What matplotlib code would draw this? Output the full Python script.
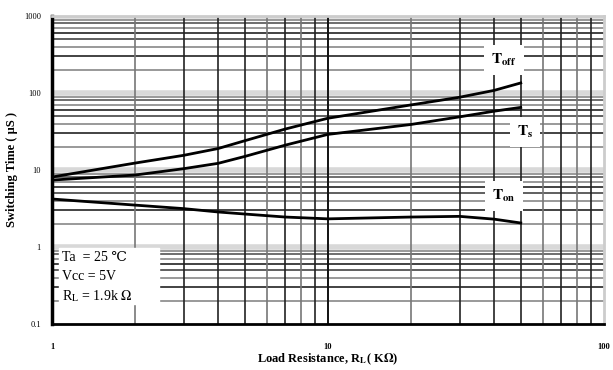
import matplotlib
matplotlib.use("Agg")
import matplotlib.pyplot as plt
import numpy as np

plt.rcParams['font.family'] = ['Liberation Serif', 'DejaVu Serif']
plt.rcParams['mathtext.fontset'] = 'stix'

# load resistance (kOhm) and switching times (uS)
load_k = [1, 2, 3, 4, 5, 7, 10, 20, 30, 40, 50]
t_off = [8.1, 12.3, 15.5, 19.0, 24.0, 34.0, 47.0, 70.0, 88.0, 108.0, 135.0]
t_s = [7.4, 8.6, 10.4, 12.2, 15.0, 21.0, 29.0, 39.0, 49.0, 58.0, 65.0]
t_on = [4.2, 3.5, 3.15, 2.85, 2.68, 2.45, 2.32, 2.45, 2.5, 2.3, 2.05]

y_ticks = [0.1, 1, 10, 100, 1000]
y_ticklabels = ['0.1', '1', '10', '100', '1000']
x_ticks = [1, 10, 100]
x_ticklabels = ['1', '10', '100']
conditions = ['Ta  = 25 \u2103', 'Vcc = 5V', r'R$_{\rm L}$ = 1.9k $\Omega$']

fig = plt.figure(figsize=(6.13, 3.7), dpi=100)
ax = fig.add_axes([0.0848, 0.1243, 0.9002, 0.8325])
ax.set_xscale('log')
ax.set_yscale('log')
ax.set_xlim(1, 100)
ax.set_ylim(0.1, 1000)

# grid, scanned-datasheet look
minor_col = {2: '#888888', 3: '#222222', 4: '#888888', 5: '#444444',
             6: '#222222', 7: '#888888', 8: '#555555', 9: '#888888'}
for dec in [0.1, 1, 10, 100]:
    ax.axhline(dec * 10, color='#d8d8d8', lw=4, zorder=1)
    for m in range(2, 10):
        ax.axhline(dec * m, color=minor_col[m], lw=1.2, zorder=1)
vcol = {2: '#777777', 3: '#222222', 4: '#222222', 5: '#222222',
        6: '#777777', 7: '#222222', 8: '#777777', 9: '#222222'}
for dec in [1, 10]:
    for m in range(2, 10):
        ax.axvline(dec * m, color=vcol[m], lw=1.2, zorder=1)
ax.axvline(10, color='#111111', lw=1.4, zorder=1)

ax.plot(load_k, t_off, color='black', lw=2, zorder=3)
ax.plot(load_k, t_s, color='black', lw=2, zorder=3)
ax.plot(load_k, t_on, color='black', lw=2, zorder=3)

box = dict(facecolor='white', edgecolor='none', pad=5)
ax.text(43.5, 270, r'$\mathbf{T_{off}}$', fontsize=11, ha='center', va='center',
        bbox=box, zorder=4)
ax.text(52, 31, r'$\mathbf{T_{s}}$', fontsize=11, ha='center', va='center',
        bbox=box, zorder=4)
ax.text(43.5, 4.6, r'$\mathbf{T_{on}}$', fontsize=11, ha='center', va='center',
        bbox=box, zorder=4)

# condition block
ax.fill_between([1.06, 2.45], 0.18, 0.97, color='white', zorder=2)
cond_y = [0.72, 0.42, 0.23]
for s, yv in zip(conditions, cond_y):
    ax.text(1.09, yv, s, fontsize=10, ha='left', va='center', zorder=4)

for side in ['top', 'right']:
    ax.spines[side].set_color('#cccccc')
    ax.spines[side].set_linewidth(2)
ax.spines['left'].set_linewidth(2.5)
ax.spines['bottom'].set_linewidth(2)

ax.set_yticks(y_ticks)
ax.set_yticklabels(y_ticklabels, fontsize=6)
ax.set_xticks(x_ticks)
ax.set_xticklabels(x_ticklabels, fontsize=6, fontweight='bold')
ax.tick_params(which='both', length=0)
ax.tick_params(axis='x', pad=14)
ax.tick_params(axis='y', pad=8)
ax.minorticks_off()

ax.set_ylabel('Switching Time ( \u03bcS )', fontsize=9, fontweight='bold', labelpad=4)
ax.set_xlabel(r'Load Resistance, R$_{\mathbf{L}}$( K$\mathbf{\Omega}$)', fontsize=9,
              fontweight='bold', labelpad=0)

fig.savefig('out.png', dpi=100)
